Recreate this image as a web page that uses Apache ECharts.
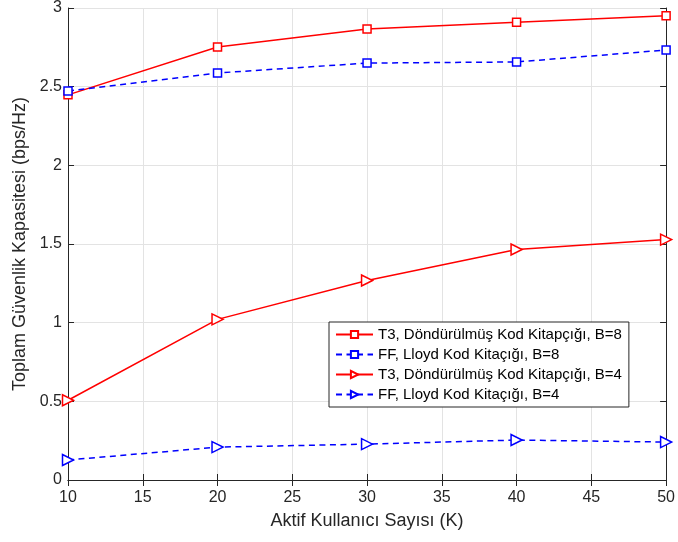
<!DOCTYPE html>
<html><head><meta charset="utf-8">
<script src="https://cdn.jsdelivr.net/npm/echarts@6/dist/echarts.min.js"></script>
<style>html,body{margin:0;padding:0;background:#fff}#c{width:678px;height:542px}</style>
</head><body><div id="c"></div>
<script>
const users = [10, 20, 30, 40, 50];
const t3B8 = [2.448, 2.752, 2.866, 2.91, 2.95];
const ffB8 = [2.473, 2.587, 2.65, 2.657, 2.733];
const t3B4 = [0.507, 1.021, 1.268, 1.465, 1.528];
const ffB4 = [0.127, 0.209, 0.228, 0.254, 0.241];
const seriesNames = [
  'T3, Döndürülmüş Kod Kitapçığı, B=8',
  'FF, Lloyd Kod Kitaçığı, B=8',
  'T3, Döndürülmüş Kod Kitapçığı, B=4',
  'FF, Lloyd Kod Kitaçığı, B=4'
];
const xTitle = 'Aktif Kullanıcı Sayısı (K)';
const yTitle = 'Toplam Güvenlik Kapasitesi (bps/Hz)';

const font = 'Liberation Sans, Arial, sans-serif';
const pair = a => users.map((u, i) => [u, a[i]]);
const red = '#ff0000', blue = '#0000ff';
function mk(name, data, color, dashed, symbol) {
  return {
    name, type: 'line', data: pair(data),
    symbol: symbol, symbolSize: symbol === 'rect' ? 8 : 11,
    symbolRotate: symbol === 'triangle' ? -90 : 0,
    showAllSymbol: true,
    lineStyle: { color, width: 1.5, type: dashed ? [6, 4.5] : 'solid' },
    itemStyle: { color: '#fff', borderColor: color, borderWidth: 1.5 },
    emphasis: { disabled: true }, animation: false, z: 3
  };
}
const chart = echarts.init(document.getElementById('c'), null, { renderer: 'canvas' });
const axisLine = { show: true, lineStyle: { color: '#262626', width: 1 } };
const tick = { inside: true, length: 6, lineStyle: { color: '#262626' } };
chart.setOption({
  animation: false,
  backgroundColor: '#fff',
  grid: { left: 68, right: 11, top: 7, bottom: 62, containLabel: false },
  xAxis: [{
    type: 'value', min: 10, max: 50, interval: 5,
    axisLine, axisTick: tick,
    axisLabel: { color: '#262626', fontFamily: font, fontSize: 16, margin: 10 },
    splitLine: { show: true, lineStyle: { color: '#e3e3e3', width: 1 } },
    name: xTitle, nameLocation: 'middle', nameGap: 32,
    nameTextStyle: { color: '#262626', fontFamily: font, fontSize: 18 }
  }, {
    type: 'value', position: 'top', min: 10, max: 50, interval: 5,
    axisLine, axisTick: tick,
    axisLabel: { show: false }, splitLine: { show: false }
  }],
  yAxis: [{
    type: 'value', min: 0, max: 3, interval: 0.5,
    axisLine, axisTick: tick,
    axisLabel: { color: '#262626', fontFamily: font, fontSize: 16, margin: 6 },
    splitLine: { show: true, lineStyle: { color: '#e3e3e3', width: 1 } },
    name: yTitle, nameLocation: 'middle', nameGap: 32, nameRotate: 90,
    nameTextStyle: { color: '#262626', fontFamily: font, fontSize: 18 }
  }, {
    type: 'value', position: 'right', min: 0, max: 3, interval: 0.5,
    axisLine, axisTick: tick,
    axisLabel: { show: false }, splitLine: { show: false }
  }],
  legend: {
    orient: 'vertical', left: 329, top: 322,
    padding: [5, 7, 5, 6], itemGap: 5, itemWidth: 37, itemHeight: 9,
    backgroundColor: '#fff', borderColor: '#262626', borderWidth: 1,
    textStyle: { color: '#000', fontFamily: font, fontSize: 15 },
    data: seriesNames
  },
  series: [
    mk(seriesNames[0], t3B8, red, false, 'rect'),
    mk(seriesNames[1], ffB8, blue, true, 'rect'),
    mk(seriesNames[2], t3B4, red, false, 'triangle'),
    mk(seriesNames[3], ffB4, blue, true, 'triangle')
  ]
});
</script></body></html>
